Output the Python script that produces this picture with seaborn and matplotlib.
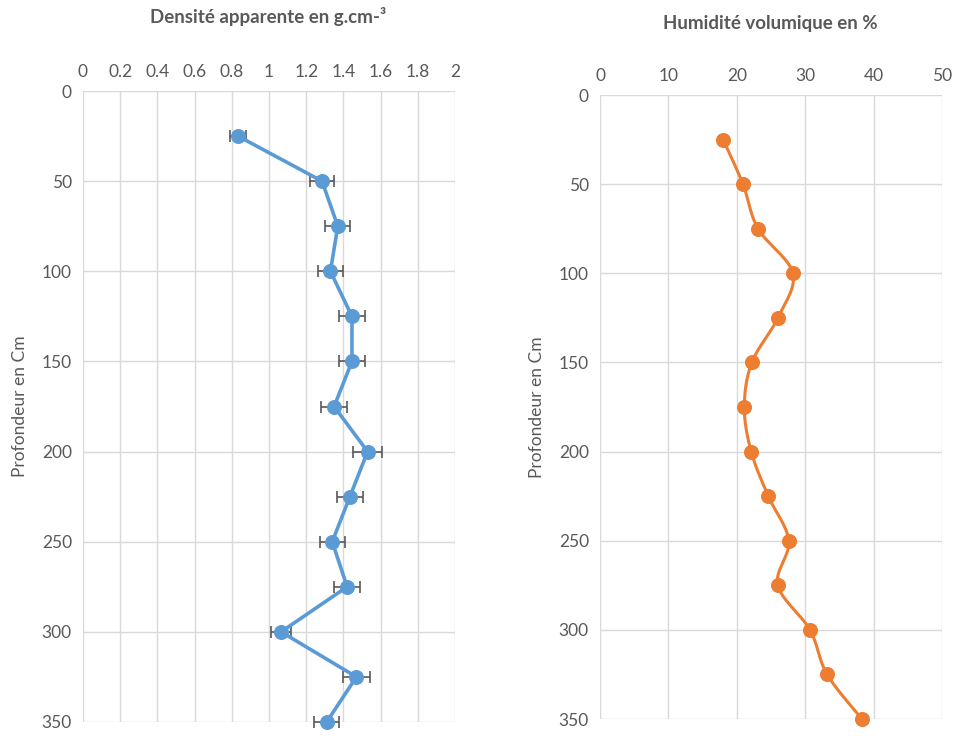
import matplotlib
matplotlib.use("Agg")
import matplotlib.pyplot as plt
import numpy as np
import pandas as pd
import seaborn as sns

depth = [25, 50, 75, 100, 125, 150, 175, 200, 225, 250, 275, 300, 325, 350]
density = [0.833, 1.285, 1.37, 1.33, 1.446, 1.446, 1.35, 1.53, 1.435, 1.34, 1.42, 1.065, 1.47, 1.31]
density_err = [0.042, 0.064, 0.068, 0.067, 0.072, 0.072, 0.068, 0.077, 0.072, 0.067, 0.071, 0.053, 0.074, 0.066]
humidity = [18.0, 20.9, 23.1, 28.2, 26.0, 22.2, 21.1, 22.1, 24.6, 27.6, 26.0, 30.7, 33.2, 38.3]

BLUE = "#5B9BD5"
ORANGE = "#ED7D31"
TXT = "#595959"
GRID = "#d9d9d9"

sns.set_style("white")
plt.rcParams["font.family"] = ["Lato", "DejaVu Sans"]


def smooth_path(x, y, n=20):
    # Excel-like smoothed line (Catmull-Rom through the points)
    px = np.asarray(x, float)
    py = np.asarray(y, float)
    px = np.concatenate([[px[0]], px, [px[-1]]])
    py = np.concatenate([[py[0]], py, [py[-1]]])
    outx, outy = [], []
    t = np.linspace(0, 1, n)
    for i in range(1, len(px) - 2):
        p0, p1, p2, p3 = [(px[j], py[j]) for j in (i - 1, i, i + 1, i + 2)]
        for k in range(2):
            a = np.array([p0[k], p1[k], p2[k], p3[k]])
            v = 0.5 * ((2 * a[1]) + (-a[0] + a[2]) * t
                       + (2 * a[0] - 5 * a[1] + 4 * a[2] - a[3]) * t ** 2
                       + (-a[0] + 3 * a[1] - 3 * a[2] + a[3]) * t ** 3)
            (outx if k == 0 else outy).append(v)
    return np.concatenate(outx), np.concatenate(outy)


def style_axes(ax, xlim, xticks, xlabels):
    ax.set_xlim(*xlim)
    ax.set_ylim(350, 0)
    ax.set_xticks(xticks)
    ax.set_xticklabels(xlabels)
    ax.set_yticks(range(0, 351, 50))
    ax.xaxis.tick_top()
    ax.grid(True, color=GRID, linewidth=1.0)
    for s in ax.spines.values():
        s.set_visible(False)
    ax.tick_params(length=0, labelsize=12.5, colors=TXT, pad=8)
    ax.set_axisbelow(True)
    ax.set_ylabel("Profondeur en Cm", fontsize=12.5, color=TXT, labelpad=10)
    ax.set_xlabel("")


fig = plt.figure(figsize=(9.56, 7.36), dpi=100)
W, H = 956, 736
ax1 = fig.add_axes([83 / W, 1 - 722 / H, (455 - 83) / W, (722 - 91) / H])
ax2 = fig.add_axes([600 / W, 1 - 719 / H, (942 - 600) / W, (719 - 95) / H])

df = pd.DataFrame({"depth": depth, "density": density, "err": density_err, "humidity": humidity})

# left panel: density with error bars
ax1.errorbar(df["density"], df["depth"], xerr=df["err"], fmt="none",
             ecolor=TXT, elinewidth=1.2, capsize=4, capthick=1.2, zorder=2, clip_on=False)
sns.lineplot(data=df, x="density", y="depth", sort=False, estimator=None, ax=ax1, color=BLUE,
             linewidth=2.6, marker="o", markersize=10, markeredgecolor=BLUE, zorder=3, clip_on=False)
xt1 = [0, 0.2, 0.4, 0.6, 0.8, 1, 1.2, 1.4, 1.6, 1.8, 2]
style_axes(ax1, (0, 2), xt1, ["0", "0.2", "0.4", "0.6", "0.8", "1", "1.2", "1.4", "1.6", "1.8", "2"])

# right panel: humidity, smoothed
sx, sy = smooth_path(df["humidity"], df["depth"])
ax2.plot(sx, sy, color=ORANGE, linewidth=2.2, zorder=2, clip_on=False)
sns.scatterplot(data=df, x="humidity", y="depth", ax=ax2, color=ORANGE, s=100,
                edgecolor=ORANGE, zorder=3, clip_on=False)
style_axes(ax2, (0, 50), [0, 10, 20, 30, 40, 50], ["0", "10", "20", "30", "40", "50"])

fig.text(268 / W, 1 - 17 / H, "Densité apparente en g.cm-³", ha="center", va="center",
         fontsize=13.5, fontweight="bold", color=TXT)
fig.text(770 / W, 1 - 24 / H, "Humidité volumique en %", ha="center", va="center",
         fontsize=13.5, fontweight="bold", color=TXT)

fig.savefig("out.png", dpi=100)
